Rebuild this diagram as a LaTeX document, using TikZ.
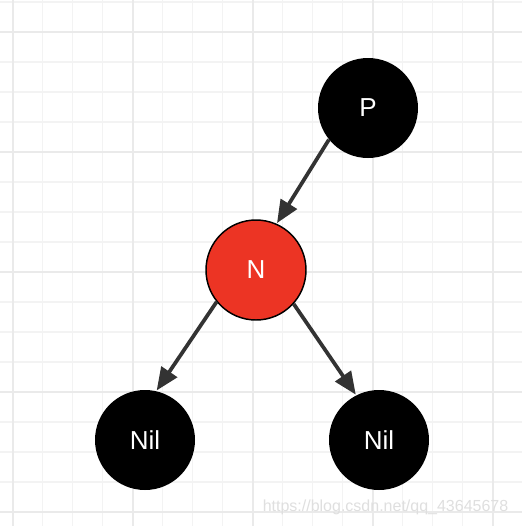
\documentclass[tikz,border=0pt]{standalone}
\usepackage{fontspec}
\setmainfont{Liberation Sans}
\usepackage{tikz}
\usetikzlibrary{arrows.meta}

\definecolor{nodered}{RGB}{236,52,36}
\definecolor{edgegray}{RGB}{51,51,51}
\definecolor{gridminor}{RGB}{243,243,243}
\definecolor{gridmajor}{RGB}{234,234,234}

\begin{document}
\begin{tikzpicture}[
        x=0.75pt, y=-0.75pt,
        rbnode/.style={circle, minimum size=75pt, inner sep=0pt, text=white, font=\fontsize{19.5}{22}\selectfont},
        blacknode/.style={rbnode, fill=black},
        rednode/.style={rbnode, fill=nodered, draw=black, line width=1.1pt},
        arr/.style={-{Triangle[length=17pt, width=14pt]}, line width=2.8pt, edgegray, shorten >=0.5pt},
    ]
        \useasboundingbox (0,0) rectangle (522,526);
        \fill[white] (0,0) rectangle (522,526);

        % Grid
        \foreach \gx in {12.7, 42.7, ..., 522} \draw[gridminor, line width=1.1pt] (\gx,0) -- (\gx,526);
        \foreach \gy in {2, 32, ..., 526} \draw[gridminor, line width=1.1pt] (0,\gy) -- (522,\gy);
        \foreach \gx in {12.7, 132.7, ..., 522} \draw[gridmajor, line width=1.3pt] (\gx,0) -- (\gx,526);
        \foreach \gy in {32, 152, ..., 526} \draw[gridmajor, line width=1.3pt] (0,\gy) -- (522,\gy);

        % Row 1
        \node[blacknode] (p) at (368,108) {P};

        % Row 2
        \node[rednode] (n) at (256,270) {N};

        % Row 3
        \node[blacknode] (nilleft) at (145,440) {Nil};
        \node[blacknode] (nilright) at (379,440) {Nil};

        % Arrows
        \draw[arr] (p.219) -- (n.66);
        \draw[arr] (n.219) -- (nilleft.77);
        \draw[arr] (n.318) -- (nilright.117);

        % Watermark
        \node[anchor=east, text=gray!25, font=\fontsize{12}{14}\selectfont] (mark) at (513,507) {https://blog.csdn.net/qq\_43645678};
    \end{tikzpicture}
\end{document}
